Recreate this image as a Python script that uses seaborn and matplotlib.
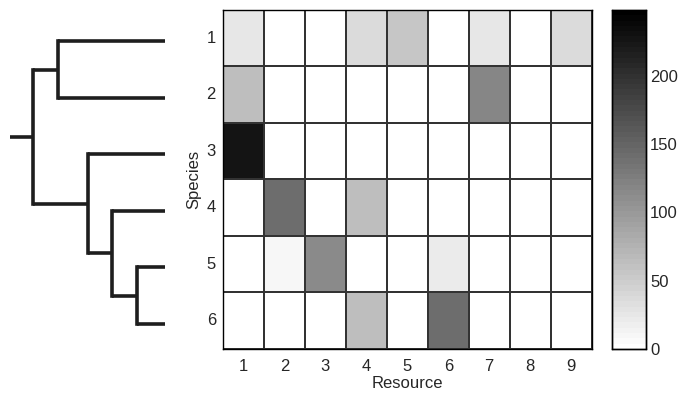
import numpy as np
import pandas as pd
import matplotlib
matplotlib.use("Agg")
import matplotlib.pyplot as plt
import seaborn as sns

sns.set_style("white")
plt.rcParams["font.family"] = ["Liberation Sans", "DejaVu Sans"]

species = ["1", "2", "3", "4", "5", "6"]
resources = ["1", "2", "3", "4", "5", "6", "7", "8", "9"]

# usage of resources by species (rows: species, cols: resources)
row1 = [25, 0, 0, 35, 57, 0, 25, 0, 35]
row2 = [65, 0, 0, 0, 0, 0, 117, 0, 0]
row3 = [228, 0, 0, 0, 0, 0, 0, 0, 0]
row4 = [0, 142, 0, 65, 0, 0, 0, 0, 0]
row5 = [0, 11, 115, 0, 0, 20, 0, 0, 0]
row6 = [0, 0, 0, 65, 0, 142, 0, 0, 0]
vmax = 248
cbar_ticks = [0, 50, 100, 150, 200]

# dendrogram: ((1,2),(3,(4,(5,6)))) ; node = (left child, right child, height)
# leaves are 0..5 ; internal nodes numbered from 6
tree_nodes = [
    (4, 5, 0.28),   # 6: (5,6)
    (3, 6, 0.53),   # 7: (4,(5,6))
    (2, 7, 0.77),   # 8: (3,(4,(5,6)))
    (0, 1, 1.07),   # 9: (1,2)
    (9, 8, 1.32),   # 10: root
]
root_stub = 1.55

df = pd.DataFrame([row1, row2, row3, row4, row5, row6], index=species, columns=resources)

fig = plt.figure(figsize=(6.88, 3.95), dpi=100)
ax = fig.add_axes([0.324, 0.1165, 0.536, 0.8583])
cax = fig.add_axes([0.8895, 0.1165, 0.0494, 0.8583])
dax = fig.add_axes([0.0, 0.1165 - 0.008, 0.25, 0.8583])

cmap = plt.get_cmap("gray_r", 64)
sns.heatmap(df, ax=ax, cbar_ax=cax, cmap=cmap, vmin=0, vmax=vmax,
            linewidths=1.3, linecolor="#333333",
            cbar_kws={"ticks": cbar_ticks})
for s in ax.spines.values():
    s.set_visible(True)
    s.set_color("black")
    s.set_linewidth(1.0)
fs = 12
ax.tick_params(axis="both", length=0, labelsize=fs)
ax.tick_params(axis="y", pad=5)
ax.tick_params(axis="x", pad=7)
ax.set_yticklabels(species, rotation=0)
ax.set_xticklabels(resources, rotation=0)
ax.set_xlabel("Resource", fontsize=fs, labelpad=2)
ax.set_ylabel("Species", fontsize=fs, labelpad=4)

for s in cax.spines.values():
    s.set_visible(True)
    s.set_color("black")
    s.set_linewidth(1.0)
cax.tick_params(axis="y", direction="in", length=3, width=0.6, labelsize=fs,
                left=True, right=True, pad=3)

# dendrogram
ypos = {i: i + 0.5 for i in range(len(species))}
xpos = {i: 0.0 for i in range(len(species))}
lw = 2.6
col = "#1e1e1e"
for k, (a, b, h) in enumerate(tree_nodes):
    nid = len(species) + k
    ya, yb = ypos[a], ypos[b]
    dax.plot([xpos[a], h], [ya, ya], color=col, lw=lw, solid_capstyle="butt")
    dax.plot([xpos[b], h], [yb, yb], color=col, lw=lw, solid_capstyle="butt")
    dax.plot([h, h], [ya, yb], color=col, lw=lw, solid_capstyle="projecting")
    ypos[nid] = (ya + yb) / 2
    xpos[nid] = h
root = len(species) + len(tree_nodes) - 1
dax.plot([xpos[root], root_stub], [ypos[root], ypos[root]], color=col, lw=lw,
         solid_capstyle="butt")
dax.set_ylim(6, 0)
dax.axis("off")
pxw = 0.25 * 688
scale = (165 - 10) / root_stub
dax.set_xlim(root_stub + 10 / scale, 0 - (pxw - 165) / scale)

fig.savefig("out.png", dpi=100)
